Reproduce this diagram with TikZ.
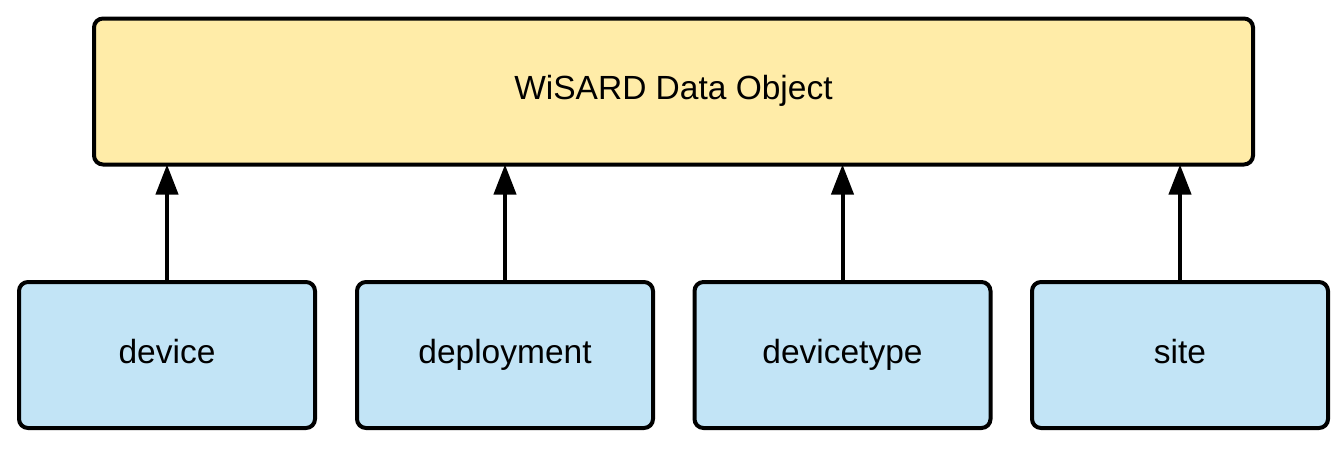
\documentclass[tikz,border=0pt]{standalone}
\usepackage{fontspec}
\setmainfont{Liberation Sans}
\usetikzlibrary{arrows.meta}
\definecolor{topfill}{HTML}{FFECA8}
\definecolor{botfill}{HTML}{C2E4F6}
\begin{document}
\begin{tikzpicture}[x=1pt,y=-1pt,
  box/.style={draw=black,line width=4pt,rounded corners=9pt,inner sep=0pt,outer sep=0pt,
    text height=24pt,text depth=8pt,font=\fontsize{33.5}{40}\selectfont},
  topbox/.style={box,fill=topfill,minimum width=1159pt,minimum height=146pt},
  botbox/.style={box,fill=botfill,minimum width=296pt,minimum height=146pt},
  conn/.style={line width=4pt,-{Triangle[length=30pt,width=22pt]}}]
\useasboundingbox (0,0) rectangle (1344,450);
\node[topbox] (obj) at (673.5,91.5) {WiSARD Data Object};
\node[botbox] (dev) at (167,355) {device};
\node[botbox] (dep) at (505,355) {deployment};
\node[botbox] (dty) at (842.5,355) {devicetype};
\node[botbox] (site) at (1180,355) {site};
\foreach \n in {dev,dep,dty,site}
  \draw[conn] (\n.north) -- (\n.north |- obj.south);
\end{tikzpicture}
\end{document}
